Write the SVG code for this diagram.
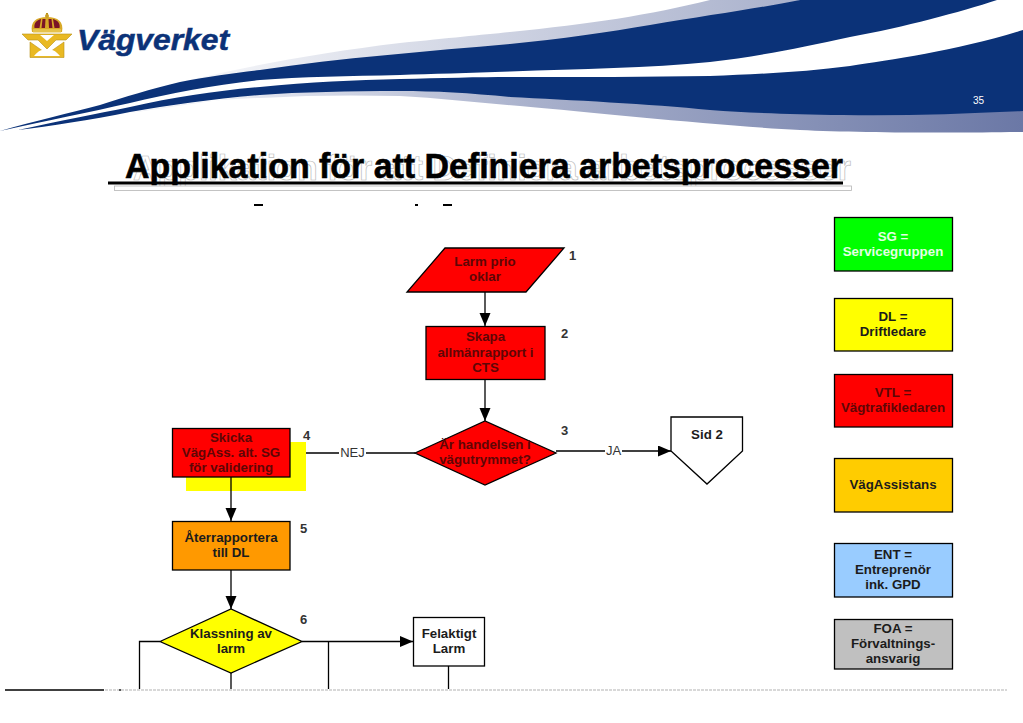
<svg xmlns="http://www.w3.org/2000/svg" width="1023" height="723" viewBox="0 0 1023 723">
<style>
text{font-family:"Liberation Sans",Arial,sans-serif;}
.n{fill:none;stroke:#000;stroke-width:1.3}
.s{stroke:#000;stroke-width:1.3}
.t{font-size:13.300px;font-weight:bold;text-anchor:middle;fill:#1c1c1c}
.r{fill:#5e0606}
.num{font-size:13px;font-weight:bold;fill:#333}
.lab{font-size:13px;fill:#333;text-anchor:middle}
</style>
<defs>
<marker id="arrow" markerUnits="userSpaceOnUse" markerWidth="14" markerHeight="12" refX="13" refY="5.5" orient="auto"><path d="M0,0L13,5.500L0,11Z" fill="#000"/></marker>
<linearGradient id="lt" gradientUnits="userSpaceOnUse" x1="130" x2="800" y1="0" y2="0"><stop offset="0" stop-color="#ffffff"/><stop offset="0.35" stop-color="#dfe2ec"/><stop offset="1" stop-color="#a9b1cc"/></linearGradient>
<linearGradient id="lb" gradientUnits="userSpaceOnUse" x1="200" x2="1023" y1="0" y2="0"><stop offset="0" stop-color="#eef0f6"/><stop offset="0.4" stop-color="#a9b1cc"/><stop offset="1" stop-color="#6b78a6"/></linearGradient>
</defs>
<rect width="1023" height="723" fill="#fff"/>
<g id="banner">
<path fill="url(#lt)" d="M130,96C180,80 290,56 400,43C450,38 480,35 510,32C590,24 650,15 710,0L800,0L700,40L510,60L260,75Z"/>
<path fill="url(#lb)" d="M130,113C170,105 215,99 260,98C310,95 355,95 400,96C440,98 480,103 520,106C600,113 720,126 800,130C860,133 960,133 1023,132L1023,105L600,95L300,88Z"/>
<path fill="#0b3278" d="M0,131C35,121 70,113 100,105C125,97 150,89 180,82C210,76 235,73 260,70C340,58 430,51 510,44C560,39 610,32 650,25C710,15 760,8 800,0L997,0C960,12 905,27 850,37C800,48 760,56 710,62C650,68 580,69 510,71.500C470,73 430,74 400,75C350,76 300,77 260,80C215,85 170,93 130,103C90,112 50,120 0,131Z"/>
<path fill="#0b3278" d="M18,130C60,121 95,114 130,107C175,97 215,91 260,87C310,82 355,80 400,79C440,78 480,77 510,77C580,77 650,77 710,76C760,74 805,72 850,66C890,60 960,50 1023,30L1023,111C960,114 900,116 843,115C790,114 750,113 710,110C650,104 570,100 510,97C470,93 435,91 400,91C350,91 300,92 260,95C215,99 170,105 130,112C90,120 50,126 18,130Z"/>
<text x="973" y="104" font-size="10" fill="#fff">35</text>
</g>
<g id="logo">
<path fill="#e9b923" stroke="#b8901a" stroke-width=".6" d="M22,34H72L66,40H56L47,49L38,40H28Z"/>
<path fill="#e9b923" stroke="#b8901a" stroke-width=".6" d="M30,42L47,54L64,42V57.500H30Z"/>
<path fill="#fff" d="M34,56C40,49 44,49 47,52C50,49 54,49 60,56Z"/>
<path fill="#fff" d="M40,35H54L47,41Z"/>
<path fill="#d8a928" d="M32,32C30,22 36,17 47,17C58,17 64,22 62,32Z"/>
<path fill="#7b1526" d="M34.500,28C33.500,23 37,20 41,19L39.500,28ZM42.500,19H45.500L45,28H41.500ZM48.500,19H51.500L52.500,28H49ZM53,19C57,20 60.500,23 59.500,28H54.500Z"/>
<rect x="33" y="29" width="28" height="3.500" fill="#e6c24a"/>
<path fill="#b8901a" d="M46,17V13H48V17Z"/>
<circle cx="47" cy="16" r="2" fill="#c99f26"/>
</g>
<text id="logotext" x="77" y="49.500" font-size="29.500" font-weight="bold" font-style="italic" fill="#0b3278" stroke="#0b3278" stroke-width=".5" textLength="152" lengthAdjust="spacingAndGlyphs">Vägverket</text>
<g id="title">
<text x="133" y="180" font-size="35" font-weight="bold" fill="#fff" stroke="#bbb" stroke-width=".7" textLength="718" lengthAdjust="spacingAndGlyphs">Applikation för att Definiera arbetsprocesser</text>
<rect x="114.500" y="186" width="737" height="4.500" fill="#fff" stroke="#b5b5b5" stroke-width=".8"/>
<text x="125" y="178" font-size="35" font-weight="bold" fill="#000" stroke="#000" stroke-width=".6" textLength="718" lengthAdjust="spacingAndGlyphs">Applikation för att Definiera arbetsprocesser</text>
<rect x="108" y="181.500" width="735" height="3" fill="#000"/>
<path fill="#000" d="M254,204h9v2h-9zM415,204h3v2h-3zM443,204h9v2h-9z"/>
</g>
<g id="highlight"><rect x="186" y="442" width="120" height="49" fill="#ffff00"/></g>
<g id="connectors">
<path class="n" d="M485,292V326" marker-end="url(#arrow)"/>
<path class="n" d="M485,380V421" marker-end="url(#arrow)"/>
<path class="n" d="M556,451H671" marker-end="url(#arrow)"/>
<path class="n" d="M415,453H306"/>
<path class="n" d="M231,477V521" marker-end="url(#arrow)"/>
<path class="n" d="M231,570V609" marker-end="url(#arrow)"/>
<path class="n" d="M302,641.500H413" marker-end="url(#arrow)"/>
<path class="n" d="M160,641.500H139.500V689"/>
<path class="n" d="M328.500,641.500V689"/>
<path class="n" d="M231,673V689"/>
<path class="n" d="M448.500,666V689"/>
<rect x="605" y="443" width="17" height="15" fill="#fff"/>
<text class="lab" x="613.500" y="455">JA</text>
<rect x="339" y="445" width="27" height="15" fill="#fff"/>
<text class="lab" x="352.500" y="457">NEJ</text>
</g>
<g id="n1"><path class="s" fill="#ff0000" d="M445,248H564L526,292H407Z"/><text class="t r" x="485" y="266">Larm prio</text><text class="t r" x="485" y="281">oklar</text><text class="num" x="569" y="260">1</text></g>
<g id="n2"><rect class="s" fill="#ff0000" x="426" y="326.500" width="119" height="53"/><text class="t r" x="485.500" y="341">Skapa</text><text class="t r" x="485.500" y="357">allmänrapport i</text><text class="t r" x="485.500" y="372">CTS</text><text class="num" x="561" y="338">2</text></g>
<g id="n3"><path class="s" fill="#ff0000" d="M415,453L485,421L556,453L485,485Z"/><text class="t r" x="485" y="449">Är handelsen i</text><text class="t r" x="485" y="464">vägutrymmet?</text><text class="num" x="561" y="435">3</text></g>
<g id="n4"><rect class="s" fill="#ff0000" x="172.500" y="428.500" width="117.500" height="48.500"/><text class="t r" x="231" y="442">Skicka</text><text class="t r" x="231" y="457">VägAss. alt. SG</text><text class="t r" x="231" y="472">för validering</text><text class="num" x="303" y="440">4</text></g>
<g id="n5"><rect class="s" fill="#ff9900" x="172.500" y="521.500" width="117.500" height="48.500"/><text class="t" x="231" y="542">Återrapportera</text><text class="t" x="231" y="557">till DL</text><text class="num" x="300" y="533">5</text></g>
<g id="n6"><path class="s" fill="#ffff00" d="M160,641.500L231,609L302,641.500L231,673Z"/><text class="t" x="231" y="638">Klassning av</text><text class="t" x="231" y="653">larm</text><text class="num" x="300" y="624">6</text></g>
<g id="n7"><rect class="s" fill="#fff" x="413.500" y="617.500" width="71" height="48.500"/><text class="t" x="449" y="638">Felaktigt</text><text class="t" x="449" y="653">Larm</text></g>
<g id="n8"><path class="s" fill="#fff" d="M671,417H742.500V451L707,484L671,451Z"/><text class="t" x="707" y="439">Sid 2</text></g>
<g id="leg-sg"><rect class="s" fill="#00ff00" x="834.500" y="217.500" width="118" height="53.500"/><text class="t" style="fill:#e4ffe4" x="893" y="241">SG =</text><text class="t" style="fill:#e4ffe4" x="893" y="256">Servicegruppen</text></g>
<g id="leg-dl"><rect class="s" fill="#ffff00" x="834.500" y="298.500" width="118" height="52.500"/><text class="t" x="893" y="321">DL =</text><text class="t" x="893" y="336">Driftledare</text></g>
<g id="leg-vtl"><rect class="s" fill="#ff0000" x="834.500" y="374.500" width="118" height="52.500"/><text class="t r" x="893" y="397">VTL =</text><text class="t r" x="893" y="412">Vägtrafikledaren</text></g>
<g id="leg-va"><rect class="s" fill="#ffcc00" x="834.500" y="458.500" width="118" height="53.500"/><text class="t" x="893" y="489">VägAssistans</text></g>
<g id="leg-ent"><rect class="s" fill="#99ccff" x="834.500" y="543.500" width="118" height="53.500"/><text class="t" x="893" y="559">ENT =</text><text class="t" x="893" y="574">Entreprenör</text><text class="t" x="893" y="589">ink. GPD</text></g>
<g id="leg-foa"><rect class="s" fill="#c0c0c0" x="834.500" y="619.500" width="118" height="49.500"/><text class="t" x="893" y="633">FOA =</text><text class="t" x="893" y="648">Förvaltnings-</text><text class="t" x="893" y="663">ansvarig</text></g>
<g id="footer">
<rect x="0" y="690" width="1023" height="33" fill="#fff"/>
<path d="M105,690H1007" stroke="#d8d8d8" stroke-width="2" stroke-dasharray="3 1" fill="none"/>
<path d="M5,690H104" stroke="#000" stroke-width="1.500" fill="none"/>
<path d="M119,690h2" stroke="#555" stroke-width="2" fill="none"/>
</g>
</svg>
